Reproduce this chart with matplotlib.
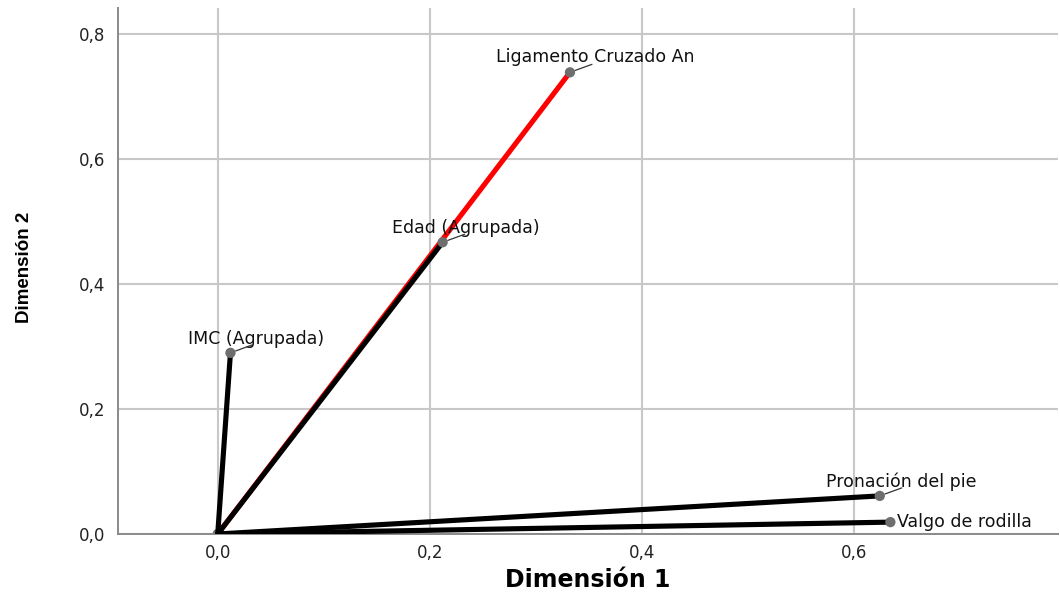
import matplotlib
matplotlib.use("Agg")
import matplotlib.pyplot as plt
from matplotlib import font_manager

variables = ["Ligamento Cruzado An", "Edad (Agrupada)", "IMC (Agrupada)",
             "Pronación del pie", "Valgo de rodilla"]
dim1 = [0.332, 0.212, 0.012, 0.624, 0.634]
dim2 = [0.739, 0.467, 0.290, 0.061, 0.019]
line_colors = ["#ff0000", "#000000", "#000000", "#000000", "#000000"]
x_ticks = [0.0, 0.2, 0.4, 0.6]
y_ticks = [0.0, 0.2, 0.4, 0.6, 0.8]

plt.rcParams['font.family'] = ['DejaVu Sans']

fig = plt.figure(figsize=(10.6, 5.96), dpi=100)
ax = fig.add_axes([118/1060, 1 - 534/596, (1058-118)/1060, (534-8)/596])
ax.set_xlim(-0.094, 0.792)
ax.set_ylim(0.0, 0.842)

ax.grid(True, color="#c8c8c8", linewidth=1.5)
ax.set_axisbelow(True)
for s in ["top", "right"]:
    ax.spines[s].set_visible(False)
for s in ["left", "bottom"]:
    ax.spines[s].set_color("#8a8a8a")
    ax.spines[s].set_linewidth(1.4)
ax.tick_params(axis="y", length=0, labelsize=12, colors="#222222", pad=9)
ax.tick_params(axis="x", length=0, labelsize=12, colors="#222222", pad=7)
ax.set_xticks(x_ticks)
ax.set_yticks(y_ticks)
ax.set_xticklabels([f"{v:.1f}".replace(".", ",") for v in x_ticks])
ax.set_yticklabels([f"{v:.1f}".replace(".", ",") for v in y_ticks])

# lines: red first so black Edad overlaps it
for i in range(len(variables)):
    ax.plot([0, dim1[i]], [0, dim2[i]], color=line_colors[i], lw=3.7,
            solid_capstyle="round", zorder=3)
ax.scatter(dim1, dim2, s=55, color="#6e6e6e", zorder=4, edgecolors="none")
ax.scatter([0], [0], s=55, color="#6e6e6e", zorder=2, edgecolors="none")

px = 0.72  # points per pixel at 100 dpi
# label offsets in pixels (text center relative to point)
offsets = {
    "Ligamento Cruzado An": (25, 15, "center"),
    "Edad (Agrupada)": (23, 14, "center"),
    "IMC (Agrupada)": (26, 14, "center"),
    "Pronación del pie": (21, 14, "center"),
    "Valgo de rodilla": (7, 0, "left"),
}
for i, name in enumerate(variables):
    dx, dy, ha = offsets[name]
    ax.annotate(name, (dim1[i], dim2[i]), xytext=(dx * px, dy * px),
                textcoords="offset points", ha=ha, va="center",
                fontsize=12.5, color="#111111", zorder=5)
    if name != "Valgo de rodilla":
        ax.annotate("", (dim1[i], dim2[i]), xytext=(22 * px, 8 * px),
                    textcoords="offset points",
                    arrowprops=dict(arrowstyle="-", color="#333333", lw=0.9,
                                    shrinkA=0, shrinkB=4), zorder=5)

ax.set_xlabel("Dimensión 1", fontsize=17, fontweight="bold", va="center")
ax.xaxis.set_label_coords(0.5, -0.087)
names = {f.name for f in font_manager.fontManager.ttflist}
yfam = ['Liberation Sans']
for cand in ['Liberation Sans Narrow', 'DejaVu Sans Condensed']:
    if cand in names:
        yfam = [cand]
        break
ax.set_ylabel("Dimensión 2", fontsize=13.5, fontweight="bold", family=yfam, va="center")
ax.yaxis.set_label_coords(-0.099, 0.506)

fig.savefig("out.png", dpi=100)
